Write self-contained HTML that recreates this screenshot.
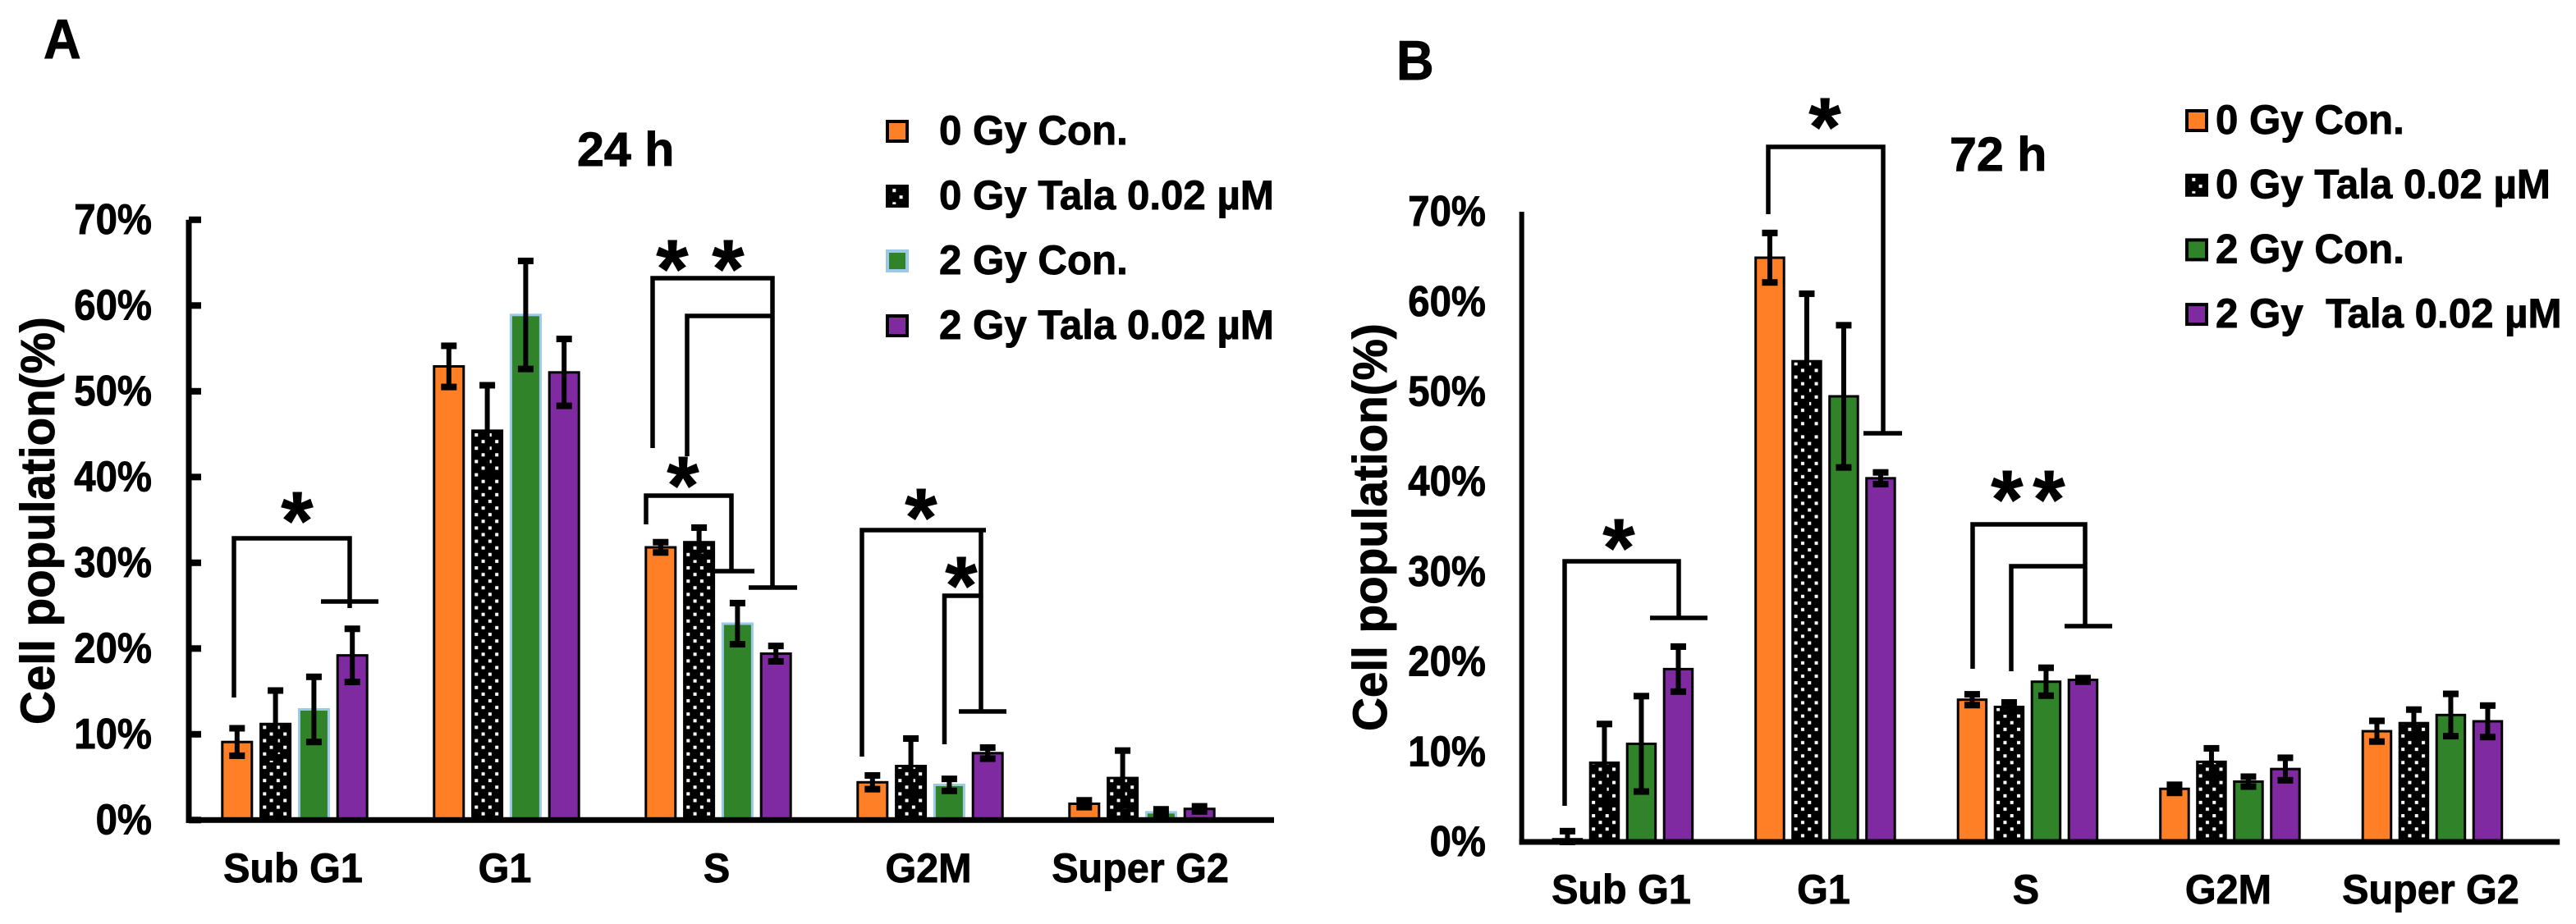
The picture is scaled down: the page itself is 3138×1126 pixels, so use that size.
<!DOCTYPE html>
<html lang="en">
<head>
<meta charset="utf-8">
<title>Cell cycle population at 24 h and 72 h</title>
<style>
  html, body { margin: 0; padding: 0; background: #fff; }
  svg { display: block; }
  text { font-family: "Liberation Sans", Arial, sans-serif; font-weight: bold; fill: #000; stroke: #000; stroke-width: 0.9px; }
</style>
</head>
<body>
<svg id="figure" xmlns="http://www.w3.org/2000/svg" width="3138" height="1126" viewBox="0 0 3138 1126">
  <rect x="0" y="0" width="3138" height="1126" fill="#fff"/>
  <defs id="defs"></defs>
  <g id="panelA"></g>
  <g id="panelB"></g>

  <text transform="translate(53,71) scale(.93,1)" font-size="68">A</text>
  <text transform="translate(1701,97) scale(.93,1)" font-size="68">B</text>
  <text transform="translate(703,202) scale(1.02,1)" font-size="58">24 h</text>
  <text transform="translate(2375,208) scale(1.02,1)" font-size="58">72 h</text>
  <text transform="translate(66,883) rotate(-90) scale(.976,1)" font-size="58">Cell population(%)</text>
  <text transform="translate(1689,891) rotate(-90) scale(.976,1)" font-size="58">Cell population(%)</text>

  <g fill="none" stroke="#000" stroke-width="5.5">
    <path d="M285 850V656H426V741M391 733H461" />
    <path d="M795 546V339H941V716M912 716H971" />
    <path d="M837 556V385H941" />
    <path d="M787 639V604H891V696M871 696H919" />
    <path d="M1050 922V646H1201M1195 646V867M1168 867H1226" />
    <path d="M1150.500 907V726H1195" />
  </g>
  <g fill="none" stroke="#000" stroke-width="5.5">
    <path d="M2154 261V179H2294V528M2270 528H2317" />
    <path d="M1906 982V684H2045V753M2010 753H2080" />
    <path d="M2403 815V639H2540V763M2515 763H2573" />
    <path d="M2450 818V690H2540" />
  </g>

  <g font-size="100" text-anchor="middle">
    <text x="362" y="669">*</text>
    <text x="819" y="362">*</text>
    <text x="887" y="362">*</text>
    <text x="832" y="626">*</text>
    <text x="1122" y="665">*</text>
    <text x="1171" y="748">*</text>
    <text x="2223" y="189">*</text>
    <text x="1972" y="702">*</text>
    <text x="2445" y="643">*</text>
    <text x="2496" y="643">*</text>
  </g>
</svg>

<script>
// ---- Shared labels ----
const categories = ['Sub G1', 'G1', 'S', 'G2M', 'Super G2'];
const tickValues = [0, 10, 20, 30, 40, 50, 60, 70];
const tickLabels = ['0%', '10%', '20%', '30%', '40%', '50%', '60%', '70%'];
const legendLabelsA = ['0 Gy Con.', '0 Gy Tala 0.02 µM', '2 Gy Con.', '2 Gy Tala 0.02 µM'];
const legendLabelsB = ['0 Gy Con.', '0 Gy Tala 0.02 µM', '2 Gy Con.', '2 Gy\u00A0\u00A0Tala 0.02 µM'];

// ---- Panel A (24 h) values, percent ----
const a0GyCon = [9.1, 52.9, 31.8, 4.4, 1.9];
const a0GyConErr = [1.6, 2.4, 0.6, 0.8, 0.4];
const a0GyTala = [11.2, 45.4, 32.4, 6.3, 4.9];
const a0GyTalaErr = [3.9, 5.3, 1.7, 3.2, 3.2];
const a2GyCon = [12.9, 58.9, 22.9, 4.1, 0.9];
const a2GyConErr = [3.8, 6.3, 2.4, 0.7, 0.35];
const a2GyTala = [19.2, 52.2, 19.4, 7.8, 1.3];
const a2GyTalaErr = [3.1, 3.9, 0.9, 0.65, 0.3];

// ---- Panel B (72 h) values, percent ----
const b0GyCon = [0.3, 64.9, 15.8, 5.9, 12.3];
const b0GyConErr = [0.9, 2.75, 0.6, 0.45, 1.15];
const b0GyTala = [8.8, 53.4, 15.0, 8.9, 13.2];
const b0GyTalaErr = [4.3, 7.5, 0.5, 1.5, 1.5];
const b2GyCon = [10.9, 49.5, 17.8, 6.7, 14.1];
const b2GyConErr = [5.3, 7.9, 1.55, 0.55, 2.35];
const b2GyTala = [19.2, 40.4, 18.0, 8.1, 13.4];
const b2GyTalaErr = [2.5, 0.65, 0.2, 1.25, 1.75];

const NS = 'http://www.w3.org/2000/svg';
const defs = document.getElementById('defs');
const seriesKeys = ['0-gy-con', '0-gy-tala', '2-gy-con', '2-gy-tala'];
const ORANGE = '#ff7f27', GREEN = '#31832a', PURPLE = '#7f2aa0', PALE = '#9cc9ea';
let patternCount = 0;

function mk(tag, parent, attrs, txt) {
  const el = document.createElementNS(NS, tag);
  for (const k in attrs) el.setAttribute(k, attrs[k]);
  if (txt !== undefined) el.textContent = txt;
  parent.appendChild(el);
  return el;
}

function dotPattern(x, y) {
  const id = 'dots' + (patternCount++);
  const p = mk('pattern', defs, { id: id, patternUnits: 'userSpaceOnUse', x: x, y: y, width: 16.6, height: 16.2 });
  mk('rect', p, { x: 0, y: 0, width: 16.6, height: 16.2, fill: '#000' });
  mk('rect', p, { x: 2, y: 2, width: 4, height: 4, fill: '#fff' });
  mk('rect', p, { x: 10.3, y: 10.1, width: 4, height: 4, fill: '#fff' });
  return 'url(#' + id + ')';
}

function drawPanel(cfg) {
  const root = document.getElementById(cfg.id);
  const yOf = v => cfg.y0 - v * cfg.pxPerPct;
  const xOf = (g, s) => cfg.x0 + cfg.band * (g + 0.5) + cfg.pitch * (s - 1.5);
  const p = cfg.prefix;

  // bars
  cfg.values.forEach((vals, s) => {
    vals.forEach((v, g) => {
      const cx = xOf(g, s);
      const top = yOf(v);
      let fill = [ORANGE, null, GREEN, PURPLE][s];
      if (s === 1) fill = dotPattern(cx - 17.3, cfg.y0 - 19.7);
      const stroke = (s === 2 && cfg.paleGreen) ? PALE : '#000';
      const bar = mk('rect', root, {
        x: cx - cfg.barW / 2, y: top, width: cfg.barW, height: Math.max(cfg.y0 - top, 0),
        fill: fill, stroke: stroke, 'stroke-width': 3
      });
      
      
    });
  });

  // error bars
  cfg.errors.forEach((errs, s) => {
    errs.forEach((e, g) => {
      const cx = xOf(g, s);
      const v = cfg.values[s][g];
      const hi = yOf(v + e), lo = yOf(Math.max(v - e, 0));
      const grp = mk('g', root, { fill: '#000' });
      
      
      mk('rect', grp, { x: cx - 3, y: hi, width: 6, height: lo - hi });
      mk('rect', grp, { x: cx - 9.5, y: hi - 4, width: 19, height: 8 });
      mk('rect', grp, { x: cx - 9.5, y: lo - 4, width: 19, height: 8 });
    });
  });

  // axes
  const yAxis = mk('rect', root, { x: cfg.x0 - cfg.axisW / 2, y: yOf(70), width: cfg.axisW, height: cfg.y0 - yOf(70) + 3.5, fill: '#000' });
  
  
  const xAxis = mk('rect', root, { x: cfg.x0 - cfg.axisW / 2, y: cfg.y0 - 3.5, width: cfg.band * 5 + 32 + cfg.axisW / 2, height: 7, fill: '#000' });
  
  

  // y ticks and labels
  tickValues.forEach((t, i) => {
    if (cfg.ticks) {
      const tick = mk('rect', root, { x: cfg.x0, y: yOf(t) - 4, width: 15, height: 8, fill: '#000' });
      
      
    }
    const label = mk('text', root, {
      transform: 'translate(' + cfg.tickLabelX + ',' + (yOf(t) + 17) + ') scale(.91,1)',
      'font-size': 52, 'text-anchor': 'end'
    }, tickLabels[i]);
    
    
  });

  // category labels
  categories.forEach((c, g) => {
    const label = mk('text', root, {
      transform: 'translate(' + (xOf(g, 1.5) - 2) + ',' + cfg.catY + ') scale(.97,1)',
      'font-size': 50, 'text-anchor': 'middle'
    }, c);
    
    
  });

  // legend
  cfg.legend.forEach((txt, s) => {
    const entry = mk('g', root, {});
    
    
    const sy = cfg.swatchY + s * cfg.legendStep;
    let fill = [ORANGE, null, GREEN, PURPLE][s];
    if (s === 1) fill = dotPattern(cfg.swatchX - 2, sy - 5);
    const sw = mk('rect', entry, {
      x: cfg.swatchX + 2, y: sy + 2, width: 24, height: 24, fill: fill,
      stroke: (s === 2 && cfg.paleGreen) ? PALE : '#000', 'stroke-width': 4
    });
    
    
    const t = mk('text', entry, {
      transform: 'translate(' + cfg.legendTextX + ',' + (sy + 30) + ') scale(.985,1)',
      'font-size': 50
    }, txt);
    
    
  });
}

drawPanel({
  id: 'panelA', prefix: 'a', x0: 230, band: 258, pitch: 46.8, barW: 36,
  y0: 999.3, pxPerPct: 10.45, axisW: 7, ticks: true, tickLabelX: 185, catY: 1075, paleGreen: true,
  values: [a0GyCon, a0GyTala, a2GyCon, a2GyTala],
  errors: [a0GyConErr, a0GyTalaErr, a2GyConErr, a2GyTalaErr],
  legend: legendLabelsA, swatchX: 1079, swatchY: 146, legendStep: 79, legendTextX: 1144
});

drawPanel({
  id: 'panelB', prefix: 'b', x0: 1853.7, band: 246.5, pitch: 45, barW: 34.5,
  y0: 1026, pxPerPct: 10.97, axisW: 6, ticks: false, tickLabelX: 1810, catY: 1101, paleGreen: false,
  values: [b0GyCon, b0GyTala, b2GyCon, b2GyTala],
  errors: [b0GyConErr, b0GyTalaErr, b2GyConErr, b2GyTalaErr],
  legend: legendLabelsB, swatchX: 2662, swatchY: 133, legendStep: 78.7, legendTextX: 2699
});
</script>
</body>
</html>
